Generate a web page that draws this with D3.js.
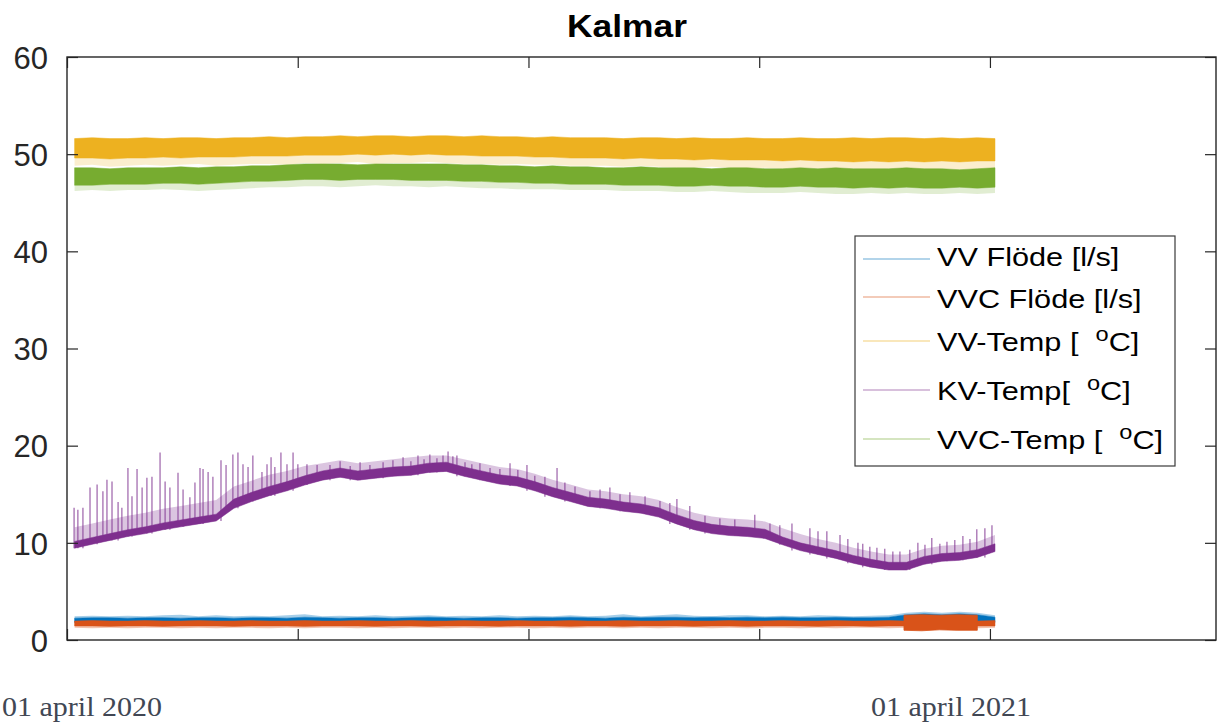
<!DOCTYPE html>
<html>
<head>
<meta charset="utf-8">
<script src="https://cdn.jsdelivr.net/npm/d3@7"></script>
<style>
  html, body { margin: 0; padding: 0; background: #fff; }
  svg { display: block; }
  text { white-space: pre; }
</style>
</head>
<body>
<svg id="chart" width="1222" height="724"></svg>
<script>
// Kalmar – weekly envelopes of the hot water (VV), circulation (VVC) and cold water (KV) logs.
// Days are counted from 01 april 2020.
const weekDays = [3,10,17,24,31,38,45,52,59,66,73,80,87,94,101,108,115,122,129,136,143,150,157,164,171,178,185,192,199,206,213,220,227,234,241,248,255,262,269,276,283,290,297,304,311,318,325,332,339,346,353,360,367];

// VV Flöde [l/s]
const vvFlowLow  = [1.8,1.8,1.8,1.8,1.75,1.8,1.8,1.8,1.8,1.8,1.8,1.75,1.8,1.8,1.8,1.8,1.8,1.8,1.75,1.8,1.8,1.8,1.8,1.8,1.8,1.75,1.8,1.8,1.8,1.8,1.8,1.8,1.8,1.75,1.8,1.8,1.8,1.8,1.8,1.8,1.8,1.75,1.8,1.8,1.8,1.8,1.8,1.8,1.8,1.8,1.8,1.75,1.8];
const vvFlowHigh = [2.25,2.3,2.3,2.25,2.3,2.3,2.25,2.3,2.3,2.25,2.3,2.3,2.25,2.35,2.3,2.25,2.3,2.3,2.25,2.3,2.35,2.3,2.25,2.3,2.3,2.25,2.3,2.3,2.35,2.3,2.25,2.35,2.3,2.35,2.35,2.3,2.35,2.3,2.35,2.3,2.35,2.3,2.3,2.35,2.3,2.3,2.35,2.6,2.7,2.6,2.7,2.6,2.35];
const vvFlowMax  = [2.45,2.5,2.45,2.5,2.45,2.55,2.6,2.45,2.55,2.45,2.5,2.45,2.55,2.65,2.45,2.5,2.45,2.55,2.45,2.5,2.55,2.45,2.5,2.45,2.55,2.45,2.5,2.45,2.55,2.45,2.5,2.65,2.45,2.55,2.65,2.5,2.45,2.55,2.55,2.45,2.5,2.45,2.55,2.5,2.45,2.5,2.55,2.8,2.9,2.8,2.9,2.8,2.55];

// VVC Flöde [l/s]
const vvcFlowLow  = [1.45,1.45,1.4,1.45,1.45,1.4,1.45,1.45,1.45,1.4,1.45,1.45,1.45,1.4,1.45,1.45,1.45,1.4,1.45,1.45,1.4,1.45,1.45,1.45,1.4,1.45,1.45,1.45,1.4,1.45,1.45,1.4,1.45,1.45,1.45,1.4,1.45,1.45,1.4,1.45,1.45,1.45,1.4,1.45,1.45,1.4,1.45,1.45,1.45,1.4,1.45,1.45,1.45];
const vvcFlowHigh = [1.95,2.0,1.95,1.95,2.0,1.95,1.95,2.0,1.95,1.95,2.0,1.95,1.95,2.0,1.95,1.95,2.0,1.95,1.95,2.0,1.95,1.95,2.0,1.95,1.95,2.0,1.95,1.95,2.0,1.95,1.95,2.0,1.95,1.95,2.0,1.95,1.95,2.0,1.95,1.95,2.0,1.95,1.95,2.0,1.95,1.95,2.0,1.95,1.95,2.0,1.95,1.95,2.0];
const vvcFlowMin  = [1.25,1.2,1.25,1.2,1.25,1.25,1.2,1.25,1.2,1.25,1.25,1.2,1.25,1.2,1.25,1.25,1.2,1.25,1.2,1.25,1.25,1.2,1.25,1.2,1.25,1.25,1.2,1.25,1.2,1.25,1.25,1.2,1.25,1.2,1.25,1.25,1.2,1.25,1.2,1.25,1.25,1.2,1.25,1.2,1.25,1.25,1.2,1.25,1.2,1.25,1.25,1.2,1.25];
// high-variance stretch at the end of the period
const vvcBlockDays = [331,338,345,352,360];
const vvcBlockLow  = [1.0,0.95,1.05,1.0,1.0];
const vvcBlockHigh = [2.55,2.6,2.55,2.6,2.55];

// VV-Temp [°C]
const vvTempHigh = [51.6,51.7,51.6,51.6,51.7,51.6,51.7,51.7,51.6,51.7,51.7,51.8,51.7,51.8,51.8,51.9,51.8,51.9,51.9,51.8,51.9,51.9,51.8,51.9,51.8,51.8,51.7,51.8,51.7,51.7,51.7,51.6,51.7,51.7,51.6,51.7,51.6,51.6,51.7,51.6,51.6,51.7,51.6,51.6,51.7,51.6,51.7,51.7,51.6,51.7,51.6,51.7,51.6];
const vvTempLow  = [49.6,49.6,49.5,49.6,49.6,49.7,49.6,49.7,49.7,49.7,49.8,49.8,49.8,49.9,49.9,49.9,50.0,49.9,50.0,49.9,50.0,49.9,49.9,49.8,49.8,49.8,49.7,49.7,49.6,49.6,49.6,49.5,49.6,49.5,49.5,49.4,49.5,49.4,49.4,49.4,49.3,49.4,49.3,49.3,49.2,49.3,49.2,49.3,49.2,49.3,49.2,49.3,49.3];
const vvTempMin  = [48.8,48.9,48.7,48.8,48.9,48.8,48.9,49.0,48.8,48.9,49.0,49.0,48.9,49.1,49.0,49.1,49.2,49.0,49.1,49.1,49.2,49.1,49.0,49.0,48.9,49.0,48.9,48.9,48.8,48.8,48.8,48.7,48.8,48.7,48.6,48.6,48.7,48.6,48.5,48.6,48.5,48.6,48.5,48.4,48.5,48.4,48.5,48.4,48.4,48.5,48.4,48.5,48.5];

// KV-Temp [°C]
const kvLow   = [9.45,9.85,10.25,10.65,10.95,11.35,11.65,11.95,12.25,13.55,14.25,14.85,15.35,15.95,16.45,16.75,16.45,16.65,16.85,16.95,17.25,17.35,16.85,16.45,16.05,15.85,15.35,14.75,14.25,13.75,13.55,13.25,13.05,12.65,11.95,11.35,10.95,10.75,10.65,10.45,9.8,9.2,8.8,8.4,7.9,7.5,7.2,7.2,7.8,8.1,8.2,8.5,9.1];
const kvHigh  = [10.15,10.55,10.95,11.35,11.65,12.05,12.35,12.65,12.95,14.5,15.2,15.8,16.3,16.9,17.4,17.7,17.4,17.6,17.8,17.9,18.2,18.3,17.8,17.4,17.0,16.8,16.3,15.7,15.2,14.7,14.5,14.2,14.0,13.6,12.9,12.3,11.9,11.7,11.6,11.4,10.6,10.0,9.6,9.2,8.7,8.3,8.0,8.0,8.6,8.9,9.0,9.3,9.9];
const kvUpper = [11.6,12.0,12.4,12.8,13.1,13.5,13.8,14.1,14.4,15.8,16.4,17.0,17.4,17.9,18.2,18.5,18.2,18.4,18.6,18.8,19.0,19.0,18.6,18.2,17.8,17.6,17.1,16.5,16.0,15.5,15.3,15.0,14.8,14.4,13.7,13.1,12.7,12.5,12.4,12.2,11.5,10.9,10.4,10.0,9.5,9.1,8.8,8.8,9.4,9.7,9.8,10.1,10.8];
// daily peaks [day, °C]
const kvPeaks = [
  [2.8,13.6],[4.3,13.4],[6.3,13.6],[9.1,15.7],[11.9,16.0],[14.2,15.3],[15.8,16.5],[17.8,16.3],[20.2,14.2],[21.7,13.6],
  [24.1,17.7],[25.7,14.8],[27.7,17.6],[29.7,15.7],[31.6,16.7],[33.6,16.8],[36.8,19.3],[38.8,16.3],[40.7,15.7],[43.9,17.2],
  [45.9,15.5],[48.6,14.7],[50.6,16.2],[52.6,17.7],[53.8,17.6],[55.8,17.3],[57.7,16.8],[60.9,18.5],[62.9,18.0],[65.6,19.1],
  [67.6,19.3],[69.6,18.1],[71.6,17.8],[73.5,19.0],[77.1,17.3],[79.1,18.1],[80.7,18.8],[82.2,17.8],[84.6,19.3],[87.0,18.1],
  [89.4,19.3],[91.3,18.1],[94.9,18.1],[98.9,18.0],[104,18.0],[108,18.4],[112,17.9],[115.9,18.3],[119.8,18.0],[125,18.3],
  [128.9,18.5],[132.9,18.8],[136,18.4],[138.8,19.0],[141.2,18.6],[143.5,19.1],[146.3,18.7],[148.7,19.0],[150.7,19.4],[152.6,18.9],
  [154.2,19.0],[157.4,18.3],[160.1,18.1],[163.3,18.2],[167.3,17.7],[171.2,17.6],[175.2,18.2],[178.3,17.5],[181.9,18.0],[185,16.9],
  [189,16.8],[193.8,17.7],[196.9,16.2],[200.9,15.8],[206.8,15.3],[210.8,15.5],[214.7,15.7],[218.7,15.0],[222.6,15.2],[228.6,14.8],
  [234.5,14.3],[238.4,14.1],[241.2,14.5],[246.3,13.8],[252.3,12.8],[258.2,12.5],[264.1,12.4],[272,12.9],[278,12.0],[281.9,11.8],
  [286.7,12.0],[293.8,11.5],[297,11.2],[300.5,11.2],[305.7,10.8],[308.8,10.4],[312.8,10.0],[314.7,9.9],[317.5,9.6],[320.3,9.5],
  [323.4,9.4],[326.6,9.1],[329.4,9.1],[333.3,9.3],[336.5,10.0],[339.3,9.8],[342,10.5],[345.2,9.9],[348,10.1],[351.1,10.3],
  [354.3,10.7],[357.1,10.4],[359.8,11.4],[363,11.5],[365.8,11.8]
];

// VVC-Temp [°C]
const vvcTempHigh = [48.6,48.6,48.5,48.6,48.6,48.6,48.7,48.6,48.7,48.7,48.8,48.8,48.9,49.0,49.0,49.0,48.9,49.0,49.0,49.0,49.0,49.0,48.9,48.9,48.8,48.8,48.7,48.8,48.7,48.7,48.6,48.6,48.7,48.6,48.6,48.6,48.5,48.6,48.6,48.5,48.5,48.6,48.5,48.6,48.5,48.5,48.5,48.6,48.5,48.5,48.4,48.5,48.6];
const vvcTempLow  = [46.8,46.8,46.9,46.9,46.9,47.0,47.0,46.9,47.0,47.1,47.2,47.2,47.3,47.4,47.4,47.3,47.4,47.4,47.4,47.3,47.3,47.3,47.2,47.2,47.1,47.1,47.0,47.0,46.9,46.9,46.9,46.8,46.8,46.8,46.7,46.7,46.8,46.7,46.7,46.6,46.6,46.7,46.6,46.6,46.5,46.6,46.5,46.6,46.5,46.5,46.6,46.5,46.6];
const vvcTempMin  = [46.2,46.3,46.2,46.3,46.3,46.4,46.3,46.2,46.3,46.4,46.5,46.6,46.6,46.7,46.7,46.6,46.7,46.8,46.7,46.7,46.6,46.7,46.6,46.5,46.5,46.4,46.4,46.4,46.3,46.3,46.3,46.2,46.2,46.2,46.1,46.1,46.2,46.1,46.0,46.0,46.0,46.1,46.0,45.9,45.9,46.0,45.9,46.0,45.9,45.9,46.0,45.9,46.0];

const seriesNames = ["VV Flöde [l/s]", "VVC Flöde [l/s]", "VV-Temp [  ", "KV-Temp[  ", "VVC-Temp [  "];
const seriesColors = ["#0072BD", "#D95319", "#EDB120", "#7E2F8E", "#77AC30"];
const yTicks = [0, 10, 20, 30, 40, 50, 60];
const xTicks = [0, 91.25, 182.5, 273.75, 365];
const dateLabels = [{day: 0, text: "01 april 2020"}, {day: 365, text: "01 april 2021"}];
const titleText = "Kalmar";

const svg = d3.select("#chart");
const plotLeft = 67, plotRight = 1216, plotTop = 57, plotBottom = 640;

const x = d3.scaleLinear().domain([0, 454.4]).range([plotLeft, plotRight]);
const y = d3.scaleLinear().domain([0, 60]).range([plotBottom, plotTop]);

const plot = svg.append("g");

function band(days, lo, hi) {
  return d3.area()
    .x((d, i) => x(days[i]))
    .y0((d, i) => y(lo[i]))
    .y1((d, i) => y(hi[i]))(days);
}

// VV Flöde
plot.append("path").attr("d", band(weekDays, vvFlowHigh, vvFlowMax))
  .attr("fill", seriesColors[0]).attr("fill-opacity", 0.35);
plot.append("path").attr("d", band(weekDays, vvFlowLow, vvFlowHigh))
  .attr("fill", seriesColors[0]).attr("stroke", seriesColors[0]).attr("stroke-width", 0.5);

// VVC Flöde
plot.append("path").attr("d", band(weekDays, vvcFlowMin, vvcFlowLow))
  .attr("fill", seriesColors[1]).attr("fill-opacity", 0.35);
plot.append("path").attr("d", band(weekDays, vvcFlowLow, vvcFlowHigh))
  .attr("fill", seriesColors[1]).attr("stroke", seriesColors[1]).attr("stroke-width", 0.5);
plot.append("path").attr("d", band(vvcBlockDays, vvcBlockLow, vvcBlockHigh))
  .attr("fill", seriesColors[1]).attr("stroke", seriesColors[1]).attr("stroke-width", 0.8);

// VV-Temp
plot.append("path").attr("d", band(weekDays, vvTempMin, vvTempLow))
  .attr("fill", seriesColors[2]).attr("fill-opacity", 0.22);
plot.append("path").attr("d", band(weekDays, vvTempLow, vvTempHigh))
  .attr("fill", seriesColors[2]).attr("stroke", seriesColors[2]).attr("stroke-width", 0.5);

// KV-Temp: light noise envelope, daily peaks, dense core
plot.append("path").attr("d", band(weekDays, kvLow, kvUpper))
  .attr("fill", seriesColors[3]).attr("fill-opacity", 0.28);
plot.append("g").selectAll("line").data(kvPeaks).join("line")
  .attr("x1", d => x(d[0])).attr("x2", d => x(d[0]))
  .attr("y1", d => y(d[1]))
  .attr("y2", d => {
    const i = Math.max(0, Math.min(weekDays.length - 1, Math.round((d[0] - weekDays[0]) / 7)));
    return y(kvLow[i]);
  })
  .attr("stroke", seriesColors[3]).attr("stroke-opacity", 0.7).attr("stroke-width", 1.3);
plot.append("path").attr("d", band(weekDays, kvLow, kvHigh))
  .attr("fill", seriesColors[3]).attr("stroke", seriesColors[3]).attr("stroke-width", 0.5);

// VVC-Temp
plot.append("path").attr("d", band(weekDays, vvcTempMin, vvcTempLow))
  .attr("fill", seriesColors[4]).attr("fill-opacity", 0.22);
plot.append("path").attr("d", band(weekDays, vvcTempLow, vvcTempHigh))
  .attr("fill", seriesColors[4]).attr("stroke", seriesColors[4]).attr("stroke-width", 0.5);

// axes (ticks drawn inward on all four sides, MATLAB box style)
const axisColor = "#262626";
function styleAxis(g) {
  g.select(".domain").remove();
  g.selectAll(".tick line").attr("stroke", axisColor).attr("stroke-width", 1.2);
}
svg.append("g").attr("transform", `translate(0,${plotBottom})`)
  .call(d3.axisBottom(x).tickValues(xTicks).tickFormat("").tickSizeInner(-11).tickSizeOuter(0)).call(styleAxis);
svg.append("g").attr("transform", `translate(0,${plotTop})`)
  .call(d3.axisTop(x).tickValues(xTicks).tickFormat("").tickSizeInner(-11).tickSizeOuter(0)).call(styleAxis);
svg.append("g").attr("transform", `translate(${plotRight},0)`)
  .call(d3.axisRight(y).tickValues(yTicks).tickFormat("").tickSizeInner(-11).tickSizeOuter(0)).call(styleAxis);
const yAxis = svg.append("g").attr("transform", `translate(${plotLeft},0)`)
  .call(d3.axisLeft(y).tickValues(yTicks).tickSizeInner(-11).tickSizeOuter(0).tickPadding(19)).call(styleAxis);
yAxis.selectAll(".tick text")
  .attr("font-family", "Liberation Sans, Arial, sans-serif")
  .attr("font-size", 31).attr("fill", axisColor).attr("dy", "0.36em");

svg.append("rect").attr("x", plotLeft).attr("y", plotTop)
  .attr("width", plotRight - plotLeft).attr("height", plotBottom - plotTop)
  .attr("fill", "none").attr("stroke", axisColor).attr("stroke-width", 1.4);

// title
svg.append("text").attr("x", 627).attr("y", 37).attr("text-anchor", "middle")
  .attr("font-family", "Liberation Sans, Arial, sans-serif").attr("font-weight", "bold")
  .attr("font-size", 31).attr("fill", "#000")
  .attr("textLength", 120).attr("lengthAdjust", "spacingAndGlyphs")
  .text(titleText);

// date annotations below the axis
const dateX = [82, 951];
svg.selectAll(".date-label").data(dateLabels).join("text")
  .attr("class", "date-label")
  .attr("x", (d, i) => dateX[i]).attr("y", 716).attr("text-anchor", "middle")
  .attr("font-family", "Liberation Serif, DejaVu Serif, serif")
  .attr("font-size", 27).attr("fill", "#414754")
  .attr("textLength", 160).attr("lengthAdjust", "spacingAndGlyphs")
  .text(d => d.text);

// legend
const legend = svg.append("g");
legend.append("rect").attr("x", 855).attr("y", 236).attr("width", 320).attr("height", 230)
  .attr("fill", "#fff").attr("stroke", "#3a3a3a").attr("stroke-width", 1.2);
const lineY = [259, 297, 341, 390, 439];
const textY = [266, 308, 351, 400, 449];
seriesNames.forEach((name, i) => {
  legend.append("line").attr("x1", 863).attr("x2", 930).attr("y1", lineY[i]).attr("y2", lineY[i])
    .attr("stroke", seriesColors[i]).attr("stroke-width", 1.2).attr("stroke-opacity", 0.6);
  const g = legend.append("g").attr("transform", `translate(937,${textY[i]}) scale(1.18,1)`);
  const t = g.append("text").attr("x", 0).attr("y", 0)
    .attr("font-family", "Liberation Sans, Arial, sans-serif").attr("font-size", 26).attr("fill", "#000");
  t.append("tspan").text(name);
  if (i >= 2) {
    t.append("tspan").attr("font-size", 20).attr("dy", -10).text("o");
    t.append("tspan").attr("dy", 10).text("C]");
  }
});
</script>
</body>
</html>
